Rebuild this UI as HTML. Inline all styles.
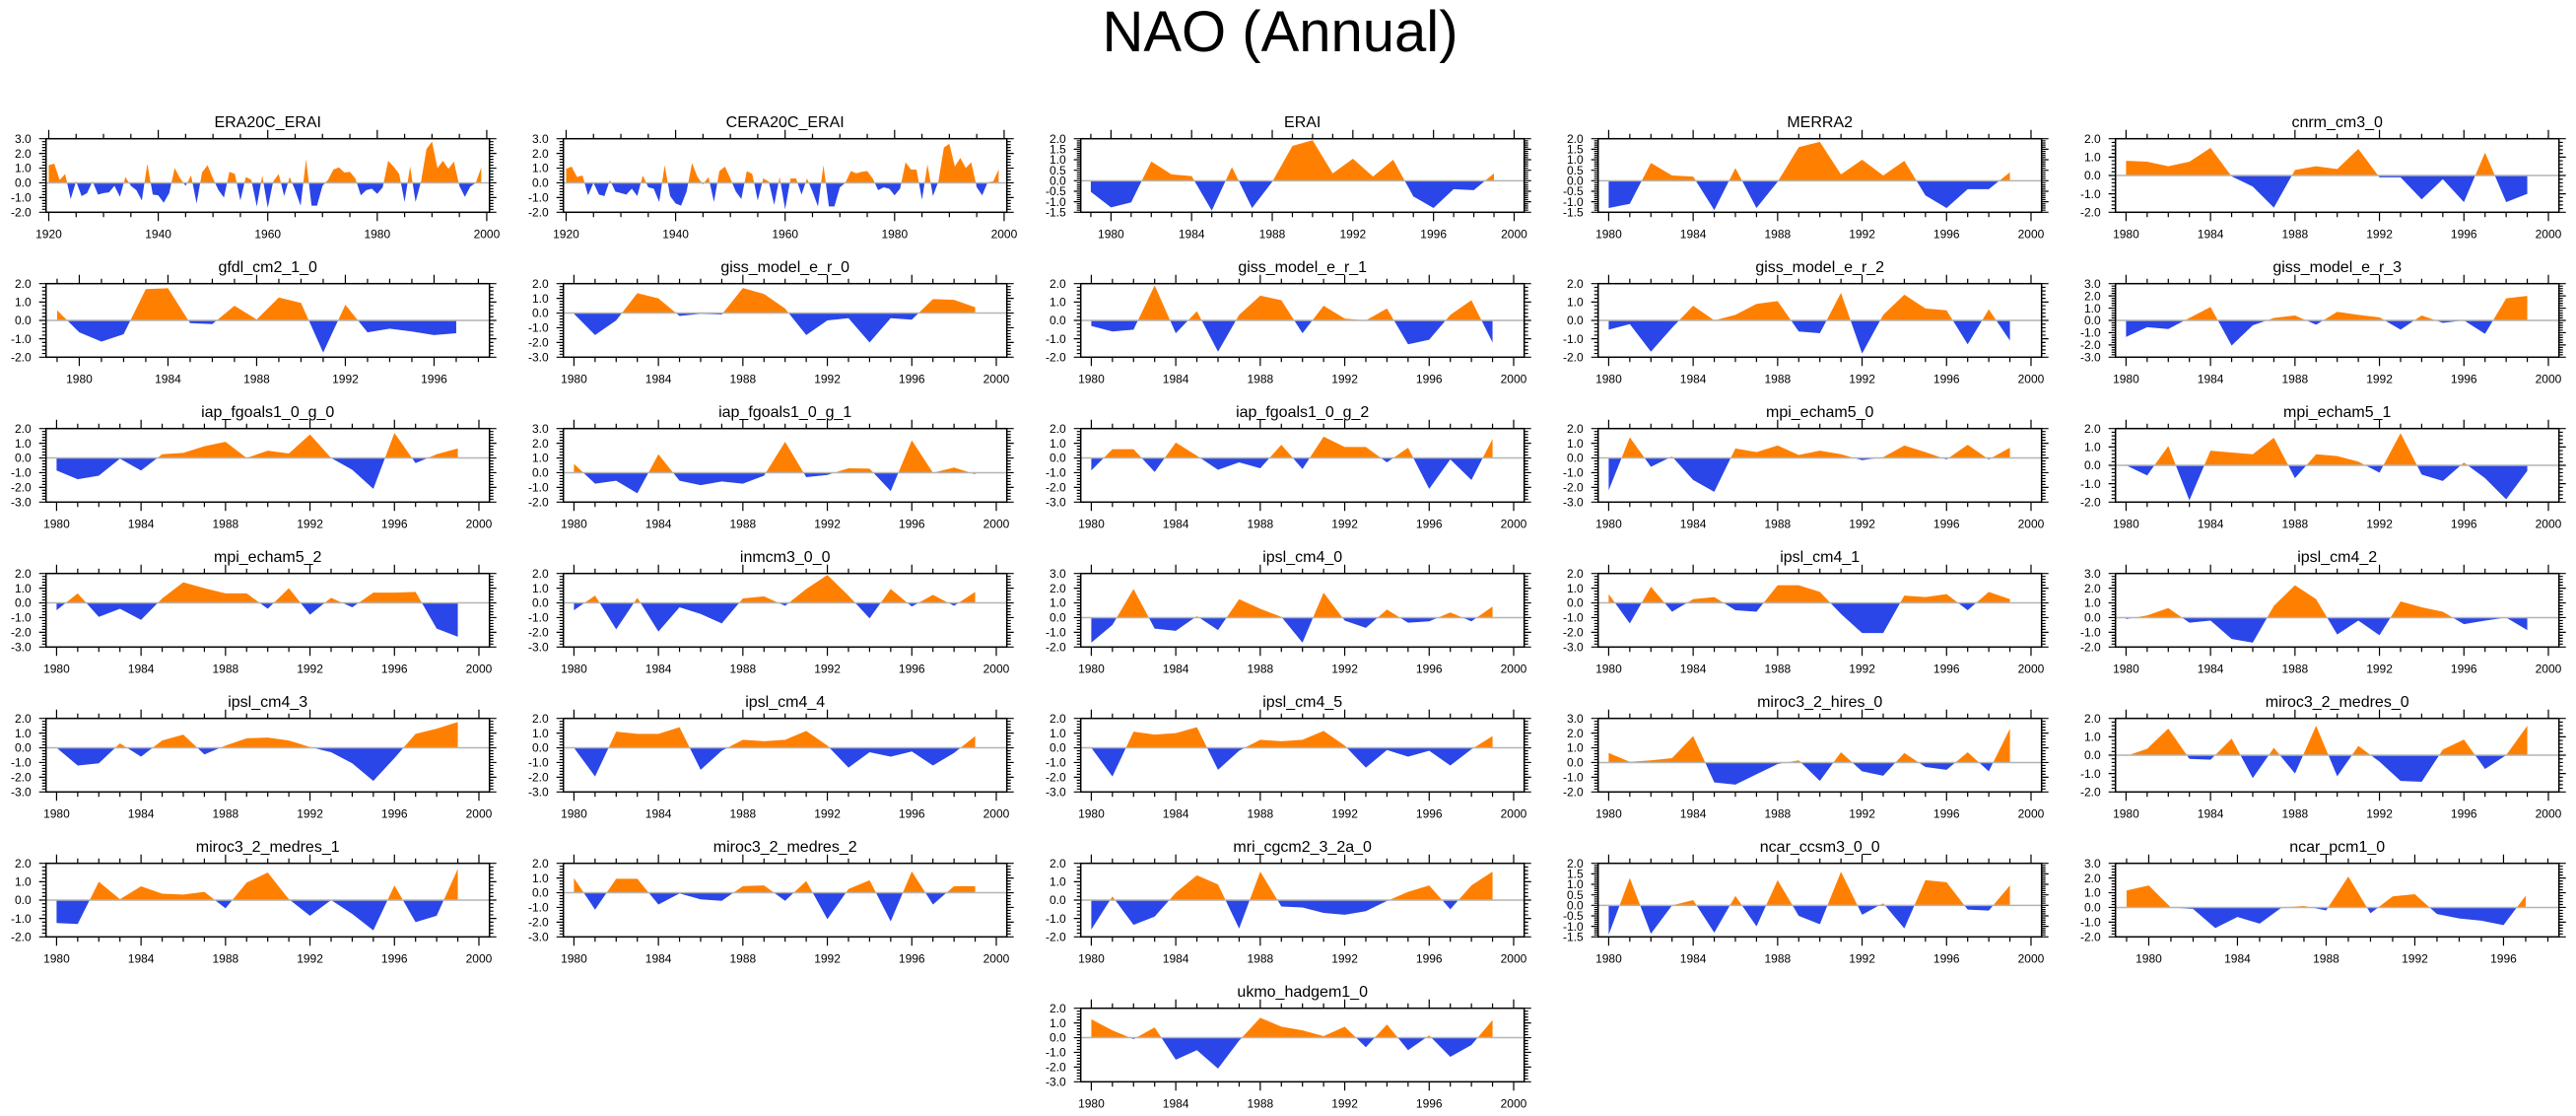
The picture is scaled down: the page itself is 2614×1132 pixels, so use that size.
<!DOCTYPE html>
<html><head><meta charset="utf-8"><title>NAO (Annual)</title>
<style>
html,body{margin:0;padding:0;background:#fff;}
svg{display:block;font-family:"Liberation Sans",Arial,sans-serif;}
</style></head>
<body>
<svg id="fig" width="2614" height="1132" viewBox="0 0 2614 1132" xmlns="http://www.w3.org/2000/svg">
<rect x="0" y="0" width="2614" height="1132" fill="#fff"/>
<text x="1299" y="52" font-size="58" text-anchor="middle" fill="#000">NAO (Annual)</text>
<g id="panels"></g>
</svg>
<script>
// ---- data ----
const v_era20c = [1.2,1.3,0.2,0.6,-1.1,0.1,-0.9,-0.7,0.1,-0.8,-0.7,-0.65,-0.2,-0.95,0.4,-0.2,-0.5,-1.2,1.3,-0.8,-0.85,-1.35,-0.7,1.0,0.3,-0.2,0.5,-1.4,0.7,1.2,0.3,-0.5,-1.0,0.75,0.6,-1.2,0.4,0.2,-1.6,0.5,-1.7,0.1,0.6,-0.9,0.4,-0.5,-1.55,1.6,-1.55,-1.55,-0.2,0.2,0.9,1.05,0.7,0.75,0.3,-0.85,-0.5,-0.4,-0.75,-0.3,1.5,1.1,0.6,-1.3,1.1,-1.3,0.1,2.3,2.8,1.0,1.5,0.95,1.45,-0.2,-0.95,-0.25,0.0,1.05];
const v_cera20c = [0.95,1.1,0.4,0.5,-0.85,0.0,-0.8,-0.9,0.2,-0.6,-0.7,-0.8,-0.4,-0.9,0.5,-0.3,-0.4,-1.3,1.2,-0.9,-1.4,-1.55,-0.6,1.35,0.4,-0.1,0.4,-1.3,0.8,1.1,0.3,-0.6,-1.1,0.8,0.6,-1.2,0.3,0.1,-1.5,0.4,-1.8,0.3,0.3,-0.8,0.3,-0.6,-1.6,1.2,-1.6,-1.6,-0.3,0.0,0.8,0.65,0.75,0.8,0.3,-0.5,-0.3,-0.4,-0.85,-0.4,1.4,0.9,0.9,-1.15,1.25,-0.9,0.1,2.4,2.65,1.1,1.7,1.0,1.4,-0.3,-0.85,0.05,0.1,0.9];
const v_erai = [-0.53,-1.27,-1.03,0.92,0.3,0.22,-1.42,0.65,-1.3,-0.05,1.66,1.93,0.35,1.05,0.2,1.0,-0.75,-1.3,-0.4,-0.45,0.35];
const v_merra2 = [-1.3,-1.1,0.85,0.25,0.2,-1.4,0.6,-1.3,-0.05,1.6,1.85,0.3,1.0,0.25,0.95,-0.7,-1.3,-0.4,-0.4,0.4];
const v_cnrm = [0.8,0.75,0.5,0.75,1.5,-0.05,-0.6,-1.75,0.3,0.5,0.35,1.45,-0.1,-0.1,-1.3,-0.2,-1.45,1.25,-1.45,-1.0];
const v_gfdl = [0.55,-0.65,-1.15,-0.75,1.7,1.75,-0.15,-0.2,0.8,0.05,1.25,0.95,-1.75,0.85,-0.65,-0.45,-0.6,-0.8,-0.7];
const v_giss0 = [-0.05,-1.5,-0.5,1.35,1.0,-0.2,-0.05,-0.1,1.7,1.3,0.3,-1.5,-0.5,-0.35,-2.0,-0.35,-0.45,0.95,0.9,0.4];
const v_giss1 = [-0.3,-0.6,-0.5,1.9,-0.7,0.5,-1.7,0.3,1.35,1.1,-0.7,0.8,0.1,0.0,0.65,-1.3,-1.05,0.3,1.1,-1.2];
const v_giss2 = [-0.5,-0.2,-1.7,-0.4,0.8,0.0,0.3,0.9,1.05,-0.6,-0.7,1.5,-1.8,0.3,1.4,0.65,0.55,-1.3,0.6,-1.1];
const v_giss3 = [-1.35,-0.55,-0.7,0.2,1.1,-2.05,-0.4,0.2,0.4,-0.35,0.7,0.45,0.25,-0.75,0.4,-0.2,0.0,-1.1,1.8,2.0];
const v_iap0 = [-0.85,-1.45,-1.2,-0.05,-0.85,0.25,0.35,0.8,1.1,0.0,0.5,0.3,1.6,0.0,-0.8,-2.1,1.7,-0.35,0.25,0.65];
const v_iap1 = [0.6,-0.75,-0.55,-1.4,1.25,-0.55,-0.85,-0.6,-0.75,-0.2,2.1,-0.3,-0.15,0.3,0.27,-1.25,2.2,0.0,0.35,-0.1];
const v_iap2 = [-0.85,0.6,0.6,-0.95,1.05,0.15,-0.8,-0.3,-0.7,0.9,-0.75,1.45,0.75,0.75,-0.3,0.7,-2.1,-0.1,-1.5,1.3];
const v_mpi0 = [-2.2,1.4,-0.6,0.1,-1.5,-2.3,0.65,0.4,0.85,0.2,0.5,0.25,-0.15,0.05,0.85,0.4,-0.1,0.9,-0.1,0.7];
const v_mpi1 = [0.0,-0.55,1.05,-1.9,0.8,0.7,0.6,1.5,-0.7,0.6,0.5,0.2,-0.4,1.75,-0.5,-0.85,0.15,-0.7,-1.85,-0.3];
const v_mpi2 = [-0.5,0.65,-0.95,-0.4,-1.15,0.3,1.4,1.0,0.65,0.65,-0.4,1.0,-0.8,0.35,-0.3,0.7,0.7,0.75,-1.75,-2.3];
const v_inmcm = [-0.5,0.5,-1.8,0.35,-1.95,-0.3,-0.75,-1.4,0.3,0.45,-0.2,0.95,1.9,0.5,-1.05,0.95,-0.25,0.55,-0.2,0.75];
const v_ipsl0 = [-1.7,-0.5,1.95,-0.75,-0.9,0.1,-0.85,1.25,0.6,0.05,-1.7,1.7,-0.2,-0.7,0.55,-0.35,-0.25,0.35,-0.25,0.75];
const v_ipsl1 = [0.6,-1.4,1.1,-0.6,0.25,0.4,-0.5,-0.6,1.2,1.2,0.75,-0.75,-2.05,-2.05,0.5,0.4,0.6,-0.5,0.75,0.25];
const v_ipsl2 = [-0.1,0.15,0.65,-0.35,-0.2,-1.45,-1.7,0.8,2.2,1.25,-1.15,-0.2,-1.2,1.1,0.7,0.4,-0.45,-0.2,0.0,-0.85];
const v_ipsl3 = [0.0,-1.2,-1.05,0.3,-0.6,0.5,0.9,-0.45,0.15,0.65,0.7,0.5,0.05,-0.3,-1.05,-2.25,-0.7,0.95,1.3,1.75];
const v_ipsl4 = [0.0,-1.95,1.1,0.95,0.95,1.4,-1.5,-0.2,0.55,0.45,0.55,1.15,0.15,-1.35,-0.3,-0.6,-0.25,-1.2,-0.35,0.8];
const v_ipsl5 = [0.0,-1.95,1.1,0.9,1.0,1.4,-1.5,-0.2,0.55,0.45,0.55,1.15,0.15,-1.35,-0.15,-0.6,-0.2,-1.2,-0.1,0.8];
const v_hires = [0.65,0.05,0.15,0.3,1.8,-1.35,-1.5,-0.8,-0.1,0.15,-1.25,0.7,-0.6,-0.9,0.65,-0.3,-0.5,0.7,-0.6,2.3];
const v_medres0 = [-0.05,0.35,1.45,-0.2,-0.25,0.9,-1.25,0.4,-1.0,1.6,-1.15,0.5,-0.35,-1.4,-1.45,0.3,0.85,-0.75,0.0,1.6];
const v_medres1 = [-1.25,-1.3,1.0,0.05,0.75,0.35,0.3,0.45,-0.45,0.95,1.5,0.05,-0.85,0.0,-0.75,-1.65,0.8,-1.2,-0.85,1.7];
const v_medres2 = [1.0,-1.15,0.95,0.95,-0.8,-0.05,-0.45,-0.55,0.45,0.5,-0.55,0.8,-1.8,0.25,0.85,-1.95,1.45,-0.8,0.45,0.45];
const v_mri = [-1.6,0.2,-1.35,-0.9,0.4,1.35,0.85,-1.55,1.55,-0.35,-0.4,-0.7,-0.8,-0.6,-0.05,0.45,0.8,-0.5,0.8,1.55];
const v_ccsm = [-1.4,1.3,-1.35,0.0,0.25,-1.3,0.45,-1.0,1.2,-0.5,-0.9,1.6,-0.45,0.1,-1.1,1.2,1.1,-0.2,-0.25,0.95];
const v_pcm = [1.15,1.5,0.0,-0.1,-1.4,-0.65,-1.1,0.0,0.1,-0.2,2.1,-0.4,0.75,0.9,-0.45,-0.75,-0.9,-1.2,0.8];
const v_ukmo = [1.25,0.5,-0.1,0.7,-1.5,-0.85,-2.1,-0.2,1.35,0.75,0.5,0.1,0.75,-0.65,0.9,-0.85,0.15,-1.3,-0.5,1.2];

const panelNames = ["ERA20C_ERAI","CERA20C_ERAI","ERAI","MERRA2","cnrm_cm3_0",
 "gfdl_cm2_1_0","giss_model_e_r_0","giss_model_e_r_1","giss_model_e_r_2","giss_model_e_r_3",
 "iap_fgoals1_0_g_0","iap_fgoals1_0_g_1","iap_fgoals1_0_g_2","mpi_echam5_0","mpi_echam5_1",
 "mpi_echam5_2","inmcm3_0_0","ipsl_cm4_0","ipsl_cm4_1","ipsl_cm4_2",
 "ipsl_cm4_3","ipsl_cm4_4","ipsl_cm4_5","miroc3_2_hires_0","miroc3_2_medres_0",
 "miroc3_2_medres_1","miroc3_2_medres_2","mri_cgcm2_3_2a_0","ncar_ccsm3_0_0","ncar_pcm1_0",
 "ukmo_hadgem1_0"];
const panelValues = [v_era20c,v_cera20c,v_erai,v_merra2,v_cnrm,
 v_gfdl,v_giss0,v_giss1,v_giss2,v_giss3,
 v_iap0,v_iap1,v_iap2,v_mpi0,v_mpi1,
 v_mpi2,v_inmcm,v_ipsl0,v_ipsl1,v_ipsl2,
 v_ipsl3,v_ipsl4,v_ipsl5,v_hires,v_medres0,
 v_medres1,v_medres2,v_mri,v_ccsm,v_pcm,v_ukmo];
const startYears = [1920,1920,1979,1980,1980, 1979,1980,1980,1980,1980, 1980,1980,1980,1980,1980,
 1980,1980,1980,1980,1980, 1980,1980,1980,1980,1980, 1980,1980,1980,1980,1979, 1980];
const yMins = [-2,-2,-1.5,-1.5,-2, -2,-3,-2,-2,-3, -3,-2,-3,-3,-2, -3,-3,-2,-3,-2, -3,-3,-3,-2,-2, -2,-3,-2,-1.5,-2, -3];
const yMaxs = [3,3,2,2,2, 2,2,2,2,3, 2,3,2,2,2, 2,2,3,2,3, 2,2,2,3,2, 2,2,2,2,3, 2];
const ySteps = [1,1,0.5,0.5,1, 1,1,1,1,1, 1,1,1,1,1, 1,1,1,1,1, 1,1,1,1,1, 1,1,1,0.5,1, 1];
const xMins = [1919.5,1919.5,1978.5,1979.5,1979.5, 1978.5,1979.5,1979.5,1979.5,1979.5, 1979.5,1979.5,1979.5,1979.5,1979.5,
 1979.5,1979.5,1979.5,1979.5,1979.5, 1979.5,1979.5,1979.5,1979.5,1979.5, 1979.5,1979.5,1979.5,1979.5,1978.5, 1979.5];
const xMaxs = [2000.5,2000.5,2000.5,2000.5,2000.5, 1998.5,2000.5,2000.5,2000.5,2000.5, 2000.5,2000.5,2000.5,2000.5,2000.5,
 2000.5,2000.5,2000.5,2000.5,2000.5, 2000.5,2000.5,2000.5,2000.5,2000.5, 2000.5,2000.5,2000.5,2000.5,1998.5, 2000.5];

// ---- layout ----
const NS = "http://www.w3.org/2000/svg";
const root = document.getElementById("panels");
const BOXW = 450, BOXH = 74.6;
function mk(tag, attrs, parent){
  const e = document.createElementNS(NS, tag);
  for (const k in attrs) e.setAttribute(k, attrs[k]);
  parent.appendChild(e);
  return e;
}
function fmt(v){ return v.toFixed(1); }

panelNames.forEach(function(name, idx){
  const col = idx < 30 ? idx % 5 : 2;
  const row = idx < 30 ? Math.floor(idx / 5) : 6;
  const x0 = 46.7 + col * 525, y0 = 140.7 + row * 147;
  const xmin = xMins[idx], xmax = xMaxs[idx], ymin = yMins[idx], ymax = yMaxs[idx];
  const sx = function(v){ return x0 + (v - xmin) / (xmax - xmin) * BOXW; };
  const sy = function(v){ return y0 + (ymax - v) / (ymax - ymin) * BOXH; };
  const slug = name.toLowerCase().replace(/_/g, '-');

  const g = mk('g', {}, root);
  
  

  const t = mk('text', {x: x0 + BOXW/2, y: y0 - 11.5, 'font-size': 16, 'text-anchor': 'middle', fill: '#000'}, g);
  
  
  t.textContent = name;

  // clip paths
  const z = sy(0);
  const defs = mk('defs', {}, g);
  const cpA = mk('clipPath', {id: 'ca' + idx}, defs);
  mk('rect', {x: x0, y: y0, width: BOXW, height: Math.max(0, z - y0)}, cpA);
  const cpB = mk('clipPath', {id: 'cb' + idx}, defs);
  mk('rect', {x: x0, y: z, width: BOXW, height: Math.max(0, y0 + BOXH - z)}, cpB);

  const vals = panelValues[idx], s0 = startYears[idx];
  let pts = sx(s0).toFixed(2) + ',' + z.toFixed(2) + ' ';
  vals.forEach(function(v, i){ pts += sx(s0 + i).toFixed(2) + ',' + sy(v).toFixed(2) + ' '; });
  pts += sx(s0 + vals.length - 1).toFixed(2) + ',' + z.toFixed(2);

  const pos = mk('polygon', {points: pts, fill: '#ff8000', 'clip-path': 'url(#ca' + idx + ')'}, g);
  
  
  const neg = mk('polygon', {points: pts, fill: '#2a46e8', 'clip-path': 'url(#cb' + idx + ')'}, g);
  
  

  const zl = mk('line', {x1: x0, x2: x0 + BOXW, y1: z, y2: z, stroke: '#b4b4b4', 'stroke-width': 1.5}, g);
  
  

  // ticks
  let tk = '';
  const ystep = ySteps[idx], yminor = ystep / 5;
  for (let k = 0; k <= Math.round((ymax - ymin) / yminor); k++){
    const v = ymin + k * yminor;
    const y = sy(v);
    const major = (k % 5 === 0);
    const L = major ? 7 : 4;
    tk += 'M' + (x0 - L) + ' ' + y + 'H' + x0 + 'M' + (x0 + BOXW) + ' ' + y + 'h' + L;
    if (major){
      const yl = mk('text', {x: x0 - 15, y: y + 4.2, 'font-size': 12, 'text-anchor': 'end', fill: '#000'}, g);
      
      
      yl.textContent = fmt(v);
    }
  }
  const longRange = (xmax - xmin) > 40;
  const xminorStep = longRange ? 5 : 1, xmajorStep = longRange ? 20 : 4;
  for (let yr = Math.ceil(xmin); yr <= xmax; yr++){
    if (yr % xminorStep !== 0) continue;
    const x = sx(yr);
    const major = (yr % xmajorStep === 0);
    const L = major ? 9 : 5;
    tk += 'M' + x + ' ' + (y0 - L) + 'V' + y0 + 'M' + x + ' ' + (y0 + BOXH) + 'v' + L;
    if (major){
      const xl = mk('text', {x: x, y: y0 + BOXH + 26, 'font-size': 12, 'text-anchor': 'middle', fill: '#000'}, g);
      
      
      xl.textContent = String(yr);
    }
  }
  const ticks = mk('path', {d: tk, stroke: '#000', 'stroke-width': 1.2, fill: 'none'}, g);
  
  

  const box = mk('rect', {x: x0, y: y0, width: BOXW, height: BOXH, fill: 'none', stroke: '#000', 'stroke-width': 1.5}, g);
  
  
});
</script>
</body></html>
